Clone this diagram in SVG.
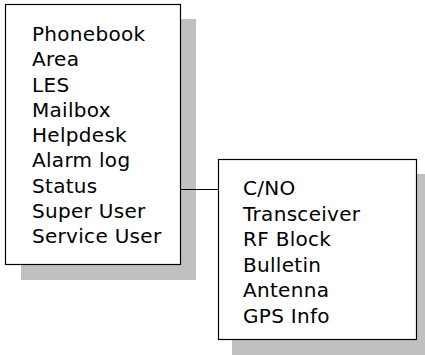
<svg xmlns="http://www.w3.org/2000/svg" width="425" height="355" viewBox="0 0 425 355">
<style>
.shadow{fill:#c0c0c0;stroke:none}
.box{fill:#fff;stroke:#000;stroke-width:1.2}
.t{font-family:"DejaVu Sans",Verdana,sans-serif;font-size:20px;letter-spacing:0.3px;fill:#000}
.c{stroke:#000;stroke-width:1.2;fill:none}
</style>
<rect width="425" height="355" fill="#fff"/>
<g id="node1">
<rect class="shadow" x="21" y="19" width="175" height="261"/>
<rect class="box" x="5.5" y="4.5" width="175" height="260"/>
<text class="t" x="32" y="41">Phonebook</text>
<text class="t" x="32" y="66.25">Area</text>
<text class="t" x="32" y="91.5">LES</text>
<text class="t" x="32" y="116.75">Mailbox</text>
<text class="t" x="32" y="142">Helpdesk</text>
<text class="t" x="32" y="167.25">Alarm log</text>
<text class="t" x="32" y="192.5">Status</text>
<text class="t" x="32" y="217.75">Super User</text>
<text class="t" x="32" y="243">Service User</text>
</g>
<g id="node2">
<rect class="shadow" x="232" y="174" width="198" height="181"/>
<rect class="box" x="218.5" y="159.5" width="198" height="180"/>
<text class="t" x="243" y="195">C/NO</text>
<text class="t" x="243" y="220.6">Transceiver</text>
<text class="t" x="243" y="246.2">RF Block</text>
<text class="t" x="243" y="271.8">Bulletin</text>
<text class="t" x="243" y="297.4">Antenna</text>
<text class="t" x="243" y="323">GPS Info</text>
</g>
<g id="connectors">
<line class="c" x1="180.5" y1="189.5" x2="218.5" y2="189.5"/>
</g>
</svg>
